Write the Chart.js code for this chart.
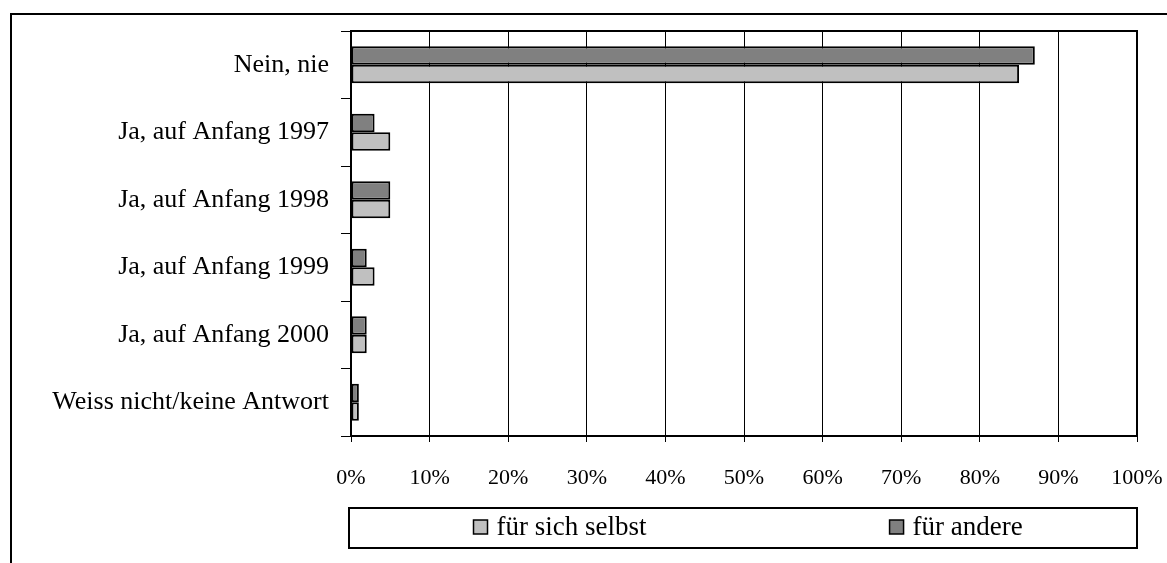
<!DOCTYPE html>
<html>
<head>
<meta charset="utf-8">
<script src="https://cdn.jsdelivr.net/npm/chart.js@4/dist/chart.umd.min.js"></script>
<style>
  html, body { margin: 0; padding: 0; background: #fff; }
  #wrap { width: 1167px; height: 563px; }
</style>
</head>
<body>
<div id="wrap"><canvas id="chart" width="1167" height="563"></canvas></div>
<script>
// chart data
var categories = ["Nein, nie", "Ja, auf Anfang 1997", "Ja, auf Anfang 1998",
                  "Ja, auf Anfang 1999", "Ja, auf Anfang 2000", "Weiss nicht/keine Antwort"];
var seriesNames = ["für andere", "für sich selbst"];
var fuerAndere = [87, 3, 5, 2, 2, 1];
var fuerSichSelbst = [85, 5, 5, 3, 2, 1];
var xTickMin = 0, xTickMax = 100, xTickStep = 10;

var serif = "'Liberation Serif', 'Times New Roman', serif";

/* outer frame, plot frame and the boxed legend (legend order reversed like the original) */
var framePlugin = {
    id: "frames",
    beforeDraw: function(chart) {
        var ctx = chart.ctx;
        ctx.save();
        ctx.strokeStyle = "#000";
        ctx.lineWidth = 2;
        ctx.beginPath();
        ctx.moveTo(11, 563);
        ctx.lineTo(11, 14);
        ctx.lineTo(1167, 14);
        ctx.stroke();
        ctx.restore();
    },
    afterDraw: function(chart) {
        var ctx = chart.ctx;
        var a = chart.chartArea;
        ctx.save();
        ctx.strokeStyle = "#000";
        ctx.lineWidth = 2;
        ctx.beginPath();
        ctx.moveTo(a.left, a.top);
        ctx.lineTo(a.right, a.top);
        ctx.lineTo(a.right, a.bottom);
        ctx.stroke();

        // legend box
        var top = a.bottom + 72, h = 40;
        var left = a.left - 2, w = a.right - left;
        ctx.strokeRect(left, top, w, h);

        var pos = [0.158, 0.686];
        var order = [1, 0];
        ctx.font = "27px " + serif;
        ctx.textBaseline = "middle";
        ctx.textAlign = "left";
        order.forEach(function(di, i) {
            var ds = chart.data.datasets[di];
            var x = left + pos[i] * w;
            var cy = top + h / 2 - 1;
            ctx.fillStyle = ds.backgroundColor;
            ctx.fillRect(x, cy - 7, 14, 14);
            ctx.lineWidth = 1.5;
            ctx.strokeRect(x, cy - 7, 14, 14);
            ctx.fillStyle = "#000";
            ctx.fillText(ds.label, x + 23, cy + 1);
        });
        ctx.restore();
    }
};

var ctx = document.getElementById("chart");
var myBarChart = new Chart(ctx, {
    type: "bar",
    data: {
        labels: categories,
        datasets: [{
            label: seriesNames[0],
            data: fuerAndere,
            backgroundColor: "#808080",
            borderColor: "#000",
            borderWidth: 2,
            borderSkipped: false
        }, {
            label: seriesNames[1],
            data: fuerSichSelbst,
            backgroundColor: "#c0c0c0",
            borderColor: "#000",
            borderWidth: 2,
            borderSkipped: false
        }]
    },
    options: {
        indexAxis: "y",
        responsive: false,
        animation: false,
        devicePixelRatio: 1,
        categoryPercentage: 0.55,
        barPercentage: 1,
        layout: {
            padding: { left: 0, top: 31, right: 30, bottom: 67 }
        },
        plugins: {
            legend: { display: false },
            tooltip: { enabled: false }
        },
        scales: {
            x: {
                min: xTickMin,
                max: xTickMax,
                ticks: {
                    stepSize: xTickStep,
                    color: "#000",
                    padding: 23,
                    maxRotation: 0,
                    font: { family: serif, size: 22 },
                    callback: function(v) { return v + "%"; }
                },
                grid: { color: "#000", lineWidth: 1, tickLength: 6 },
                border: { color: "#000", width: 2 },
                afterFit: function(scale) {
                    scale.height = 60;
                    scale.paddingLeft = 0;
                    scale.paddingRight = 0;
                }
            },
            y: {
                ticks: {
                    color: "#000",
                    padding: 12,
                    font: { family: serif, size: 26 }
                },
                grid: {
                    offset: true,
                    drawOnChartArea: false,
                    color: "#000",
                    lineWidth: 1,
                    tickLength: 10
                },
                border: { color: "#000", width: 2 },
                afterFit: function(scale) { scale.width = 351; }
            }
        }
    },
    plugins: [framePlugin]
});
</script>
</body>
</html>
